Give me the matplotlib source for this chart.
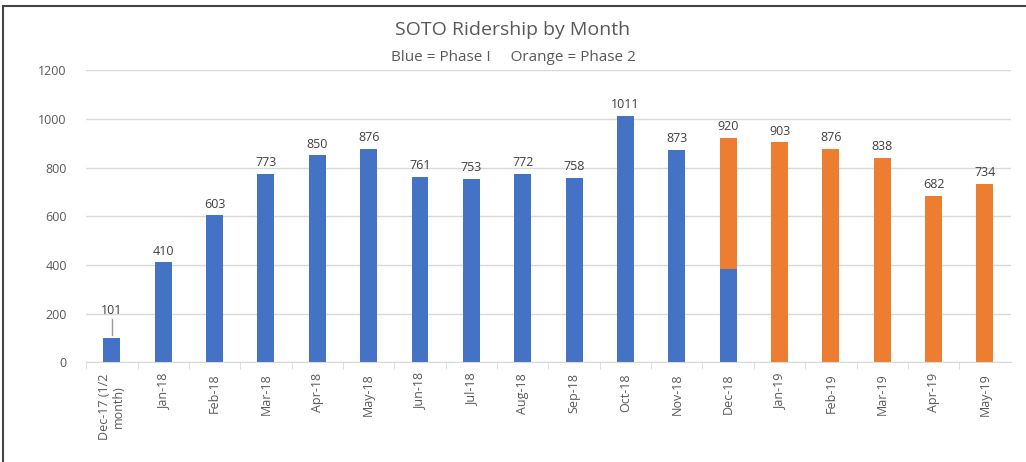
import matplotlib.pyplot as plt
from matplotlib.lines import Line2D

months = ["Dec-17 (1/2\nmonth)", "Jan-18", "Feb-18", "Mar-18", "Apr-18", "May-18",
          "Jun-18", "Jul-18", "Aug-18", "Sep-18", "Oct-18", "Nov-18", "Dec-18",
          "Jan-19", "Feb-19", "Mar-19", "Apr-19", "May-19"]
phase1 = [101, 410, 603, 773, 850, 876, 761, 753, 772, 758, 1011, 873, 383,
          0, 0, 0, 0, 0]
phase2 = [0, 0, 0, 0, 0, 0, 0, 0, 0, 0, 0, 0, 537,
          903, 876, 838, 682, 734]
totals = [a + b for a, b in zip(phase1, phase2)]

blue = "#4472C4"
orange = "#ED7D31"
plt.rcParams['font.family'] = ['Open Sans', 'DejaVu Sans']

fig = plt.figure(figsize=(10.26, 4.62), dpi=100)
ax = fig.add_axes([0.084, 0.216, 0.901, 0.632])

# frame only on top and left, like the screenshot
fig.lines.append(Line2D([0.003, 0.003], [0.0, 0.988], transform=fig.transFigure,
                        color="#444444", linewidth=1.5))
fig.lines.append(Line2D([0.003, 1.0], [0.988, 0.988], transform=fig.transFigure,
                        color="#444444", linewidth=1.5))

x = list(range(len(months)))
ax.bar(x, phase1, width=0.33, color=blue, zorder=2)
ax.bar(x, phase2, width=0.33, bottom=phase1, color=orange, zorder=2)

for i, t in enumerate(totals):
    if i == 0:
        ax.plot([i, i], [t + 12, t + 75], color="#999999", linewidth=1, zorder=3)
        ax.text(i, t + 85, str(t), ha="center", va="bottom", fontsize=9, color="#404040")
    else:
        ax.text(i, t + 20, str(t), ha="center", va="bottom", fontsize=9, color="#404040")

ax.set_xlim(-0.5, len(months) - 0.5)
ax.set_ylim(0, 1200)
ax.set_yticks(range(0, 1201, 200))
ax.yaxis.grid(True, color="#D9D9D9", linewidth=1, zorder=0)
ax.set_axisbelow(True)
for s in ["top", "right", "left"]:
    ax.spines[s].set_visible(False)
ax.spines["bottom"].set_color("#D9D9D9")
ax.tick_params(axis="y", length=0, labelsize=9, labelcolor="#595959", pad=14)

ax.set_xticks([i + 0.5 for i in x[:-1]] + [-0.5], minor=True)
ax.set_xticks(x)
ax.set_xticklabels(months, rotation=90, fontsize=9, color="#595959", linespacing=1.1)
ax.tick_params(axis="x", which="major", length=0, pad=8)
ax.tick_params(axis="x", which="minor", length=5, color="#D9D9D9")

fig.text(0.5, 0.935, "SOTO Ridership by Month", ha="center", va="center",
         fontsize=14, color="#595959")
fig.text(0.5, 0.875, "Blue = Phase I     Orange = Phase 2", ha="center", va="center",
         fontsize=11, color="#595959")

fig.savefig("out.png", dpi=100)
